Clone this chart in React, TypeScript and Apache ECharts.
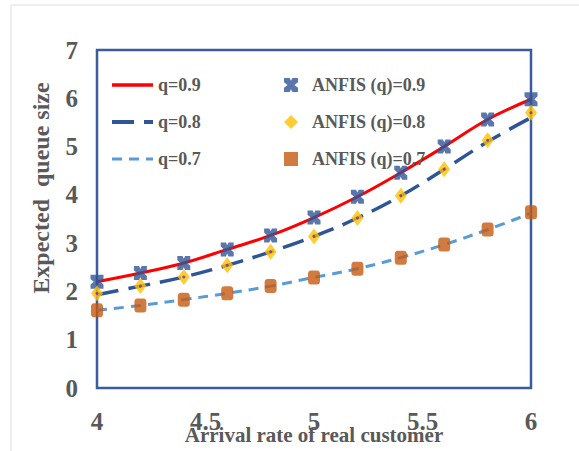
import React, { useEffect, useRef } from "react";
import * as echarts from "echarts";

const xValues = [4, 4.2, 4.4, 4.6, 4.8, 5, 5.2, 5.4, 5.6, 5.8, 6];
const q09Line = [2.2, 2.38, 2.59, 2.87, 3.16, 3.53, 3.96, 4.46, 5.0, 5.56, 5.98];
const q08Line = [1.93, 2.11, 2.3, 2.54, 2.82, 3.14, 3.52, 3.98, 4.53, 5.1, 5.6];
const q07Line = [1.61, 1.71, 1.83, 1.96, 2.11, 2.29, 2.47, 2.7, 2.97, 3.28, 3.62];
const anfis09 = [2.2, 2.38, 2.59, 2.87, 3.16, 3.53, 3.96, 4.46, 5.0, 5.56, 5.98];
const anfis08 = [1.96, 2.11, 2.3, 2.54, 2.82, 3.14, 3.52, 3.98, 4.53, 5.13, 5.7];
const anfis07 = [1.61, 1.71, 1.83, 1.96, 2.11, 2.29, 2.47, 2.7, 2.97, 3.28, 3.64];
const xTickLabels = ["4", "4.5", "5", "5.5", "6"];
const yTickLabels = ["0", "1", "2", "3", "4", "5", "6", "7"];

const lineNames = ["q=0.9", "q=0.8", "q=0.7"];
const markerNames = ["ANFIS (q)=0.9", "ANFIS (q)=0.8", "ANFIS (q)=0.7"];
const xName = "Arrival rate of real customer";
const yName = "Expected  queue size";

const FONT = "'Liberation Serif', 'Times New Roman', serif";
const GREY = "#595959";
const XSYM =
  "path://M0,0 L4,0 L5,2 L6,0 L10,0 L10,3 L7.5,5 L10,7 L10,10 L6,10 L5,8 L4,10 L0,10 L0,7 L2.5,5 L0,3 Z";

const pts = (arr: number[]) => xValues.map((x, i) => [x, arr[i]]);

export default function App() {
  const ref = useRef<HTMLDivElement>(null);
  useEffect(() => {
    if (!ref.current) return;
    const chart = echarts.init(ref.current, null, { renderer: "svg" });
    const legendText = {
      fontSize: 18,
      fontWeight: "bold" as const,
      fontFamily: FONT,
      color: GREY,
    };
    chart.setOption({
      animation: false,
      backgroundColor: "#ffffff",
      grid: {
        left: 97,
        right: 48,
        top: 50,
        bottom: 63,
        show: true,
        borderColor: "#3a5b9c",
        borderWidth: 2.5,
        containLabel: false,
        outerBoundsMode: "none",
      },
      legend: [
        {
          data: [
            { name: lineNames[0], lineStyle: { width: 3.5 } },
            { name: lineNames[1], lineStyle: { width: 4 } },
            { name: lineNames[2], lineStyle: { width: 3 } },
          ],
          orient: "vertical",
          left: 105,
          top: 71,
          itemWidth: 41,
          itemHeight: 14,
          itemGap: 19,
          itemStyle: { opacity: 0 },
          textStyle: legendText,
        },
        {
          data: [
            { name: markerNames[0] },
            { name: markerNames[1] },
            { name: markerNames[2], icon: "rect" },
          ],
          orient: "vertical",
          left: 279,
          top: 71,
          itemWidth: 14,
          itemHeight: 14,
          itemGap: 19,
          textStyle: { ...legendText, padding: [0, 0, 0, 9] },
        },
      ],
      xAxis: {
        type: "value",
        min: 4,
        max: 6,
        interval: 0.5,
        name: xName,
        nameLocation: "middle",
        nameGap: 36,
        nameMoveOverlap: false,
        nameTextStyle: {
          fontSize: 21,
          fontWeight: "bold",
          fontFamily: FONT,
          color: GREY,
        },
        axisLine: { show: false },
        axisTick: { show: false },
        splitLine: { show: false },
        axisLabel: {
          margin: 21,
          fontSize: 25,
          fontWeight: "bold",
          fontFamily: FONT,
          color: GREY,
          formatter: (v: number) => xTickLabels[Math.round((v - 4) / 0.5)] ?? "",
        },
      },
      yAxis: {
        type: "value",
        min: 0,
        max: 7,
        interval: 1,
        axisLine: { show: false },
        axisTick: { show: false },
        splitLine: { show: false },
        axisLabel: {
          margin: 19,
          fontSize: 25,
          fontWeight: "bold",
          fontFamily: FONT,
          color: GREY,
          formatter: (v: number) => yTickLabels[Math.round(v)] ?? "",
        },
      },
      graphic: [
        {
          type: "rect",
          shape: { x: 11, y: 5, width: 620, height: 500 },
          style: { fill: "none", stroke: "#dedede", lineWidth: 1 },
          silent: true,
          z: -1,
        },
        {
          type: "text",
          x: 41,
          y: 188,
          rotation: Math.PI / 2,
          style: {
            text: yName,
            fontSize: 24,
            fontWeight: "bold",
            fontFamily: FONT,
            fill: GREY,
            align: "center",
            verticalAlign: "middle",
          },
        },
      ],
      series: [
        {
          name: lineNames[0],
          type: "line",
          data: pts(q09Line),
          smooth: 0.4,
          symbol: "none",
          lineStyle: { color: "#ff0000", width: 3 },
          itemStyle: { color: "#ff0000" },
          z: 3,
        },
        {
          name: lineNames[1],
          type: "line",
          data: pts(q08Line),
          smooth: 0.4,
          symbol: "none",
          lineStyle: { color: "#2f5597", width: 3.5, type: [22, 10] },
          itemStyle: { color: "#2f5597" },
          z: 3,
        },
        {
          name: lineNames[2],
          type: "line",
          data: pts(q07Line),
          smooth: 0.4,
          symbol: "none",
          lineStyle: { color: "#5b9bd5", width: 3, type: [10, 7] },
          itemStyle: { color: "#5b9bd5" },
          z: 3,
        },
        {
          name: markerNames[0],
          type: "scatter",
          data: pts(anfis09),
          symbol: XSYM,
          symbolSize: [13, 14],
          itemStyle: { color: "#2f5597" },
          z: 4,
        },
        {
          name: markerNames[1],
          type: "scatter",
          data: pts(anfis08),
          symbol: "diamond",
          symbolSize: [12, 16],
          itemStyle: { color: "#ffc000" },
          z: 4,
        },
        {
          name: "dot",
          type: "scatter",
          data: pts(anfis08),
          symbol: "circle",
          symbolSize: 3,
          itemStyle: { color: "#7030a0" },
          silent: true,
          z: 5,
        },
        {
          name: markerNames[2],
          type: "scatter",
          data: pts(anfis07),
          symbol: "roundRect",
          symbolSize: [12, 14],
          itemStyle: { color: "#c55a11" },
          z: 4,
        },
      ],
    });
    return () => chart.dispose();
  }, []);
  return (
    <div
      ref={ref}
      style={{ position: "fixed", left: 0, top: 0, width: 579, height: 451 }}
    />
  );
}
